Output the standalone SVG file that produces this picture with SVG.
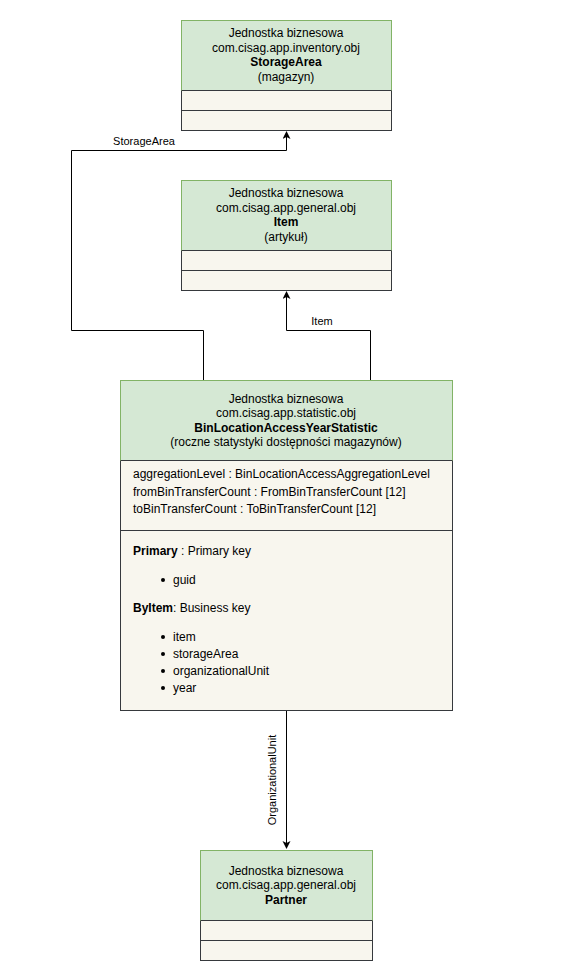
<svg xmlns="http://www.w3.org/2000/svg" width="572" height="980" viewBox="0 0 572 980">
<defs>
<marker id="arr" markerWidth="10" markerHeight="10" refX="7" refY="4" orient="auto" markerUnits="userSpaceOnUse">
<path d="M0,0 L8,4 L0,8 L2,4 Z" fill="#000"/>
</marker>
<style>
.hdr{fill:#d5e8d4;stroke:#82b366;stroke-width:1}
.body{fill:#f8f6ee;stroke:#36393d;stroke-width:1}
.ln{stroke:#36393d;stroke-width:1}
text{font-family:"Liberation Sans",Arial,sans-serif;font-size:12px;fill:#000}
.c{text-anchor:middle}
.b{font-weight:bold}
.con{fill:none;stroke:#000;stroke-width:1}
.lbl{font-size:11px}
</style>
</defs>
<rect width="572" height="980" fill="#fff"/>
<g id="connectors">
<path class="con" d="M203.5,380 V330.5 H71.5 V150.5 H286.5 V132" marker-end="url(#arr)"/>
<text class="c lbl" x="144" y="145">StorageArea</text>
<path class="con" d="M370.5,380 V330.5 H286.5 V292" marker-end="url(#arr)"/>
<text class="c lbl" x="322" y="325">Item</text>
<path class="con" d="M286.5,710 V848" marker-end="url(#arr)"/>
<text class="c lbl" transform="translate(276,780) rotate(-90)">OrganizationalUnit</text>
</g>
<g id="storageArea">
<rect class="body" x="181.5" y="20.5" width="210" height="110"/>
<rect class="hdr" x="181.5" y="20.5" width="210" height="70"/>
<line class="ln" x1="181.5" y1="90.5" x2="391.5" y2="90.5"/>
<line class="ln" x1="181.5" y1="110.5" x2="391.5" y2="110.5"/>
<text class="c" x="286" y="37">Jednostka biznesowa</text>
<text class="c" x="286" y="52">com.cisag.app.inventory.obj</text>
<text class="c b" x="286" y="66">StorageArea</text>
<text class="c" x="286" y="81">(magazyn)</text>
</g>
<g id="item">
<rect class="body" x="181.5" y="180.5" width="210" height="110"/>
<rect class="hdr" x="181.5" y="180.5" width="210" height="70"/>
<line class="ln" x1="181.5" y1="250.5" x2="391.5" y2="250.5"/>
<line class="ln" x1="181.5" y1="270.5" x2="391.5" y2="270.5"/>
<text class="c" x="286" y="197">Jednostka biznesowa</text>
<text class="c" x="286" y="212">com.cisag.app.general.obj</text>
<text class="c b" x="286" y="226">Item</text>
<text class="c" x="286" y="241">(artykuł)</text>
</g>
<g id="binLocationAccessYearStatistic">
<rect class="body" x="120.5" y="380.5" width="332" height="330"/>
<rect class="hdr" x="120.5" y="380.5" width="332" height="80"/>
<line class="ln" x1="120.5" y1="460.5" x2="452.5" y2="460.5"/>
<line class="ln" x1="120.5" y1="530.5" x2="452.5" y2="530.5"/>
<text class="c" x="286" y="403">Jednostka biznesowa</text>
<text class="c" x="286" y="417">com.cisag.app.statistic.obj</text>
<text class="c b" x="286" y="432">BinLocationAccessYearStatistic</text>
<text class="c" x="286" y="446">(roczne statystyki dostępności magazynów)</text>
<text x="133" y="478">aggregationLevel : BinLocationAccessAggregationLevel</text>
<text x="133" y="496">fromBinTransferCount : FromBinTransferCount [12]</text>
<text x="133" y="513">toBinTransferCount : ToBinTransferCount [12]</text>
<text x="133" y="555"><tspan class="b">Primary</tspan> : Primary key</text>
<circle cx="163" cy="580" r="2"/>
<text x="173" y="584">guid</text>
<text x="133" y="612"><tspan class="b">ByItem</tspan>: Business key</text>
<circle cx="163" cy="637" r="2"/>
<text x="173" y="641">item</text>
<circle cx="163" cy="654" r="2"/>
<text x="173" y="658">storageArea</text>
<circle cx="163" cy="671" r="2"/>
<text x="173" y="675">organizationalUnit</text>
<circle cx="163" cy="688" r="2"/>
<text x="173" y="692">year</text>
</g>
<g id="partner">
<rect class="body" x="200.5" y="850.5" width="172" height="110"/>
<rect class="hdr" x="200.5" y="850.5" width="172" height="70"/>
<line class="ln" x1="200.5" y1="920.5" x2="372.5" y2="920.5"/>
<line class="ln" x1="200.5" y1="940.5" x2="372.5" y2="940.5"/>
<text class="c" x="286" y="875">Jednostka biznesowa</text>
<text class="c" x="286" y="889">com.cisag.app.general.obj</text>
<text class="c b" x="286" y="904">Partner</text>
</g>
</svg>
